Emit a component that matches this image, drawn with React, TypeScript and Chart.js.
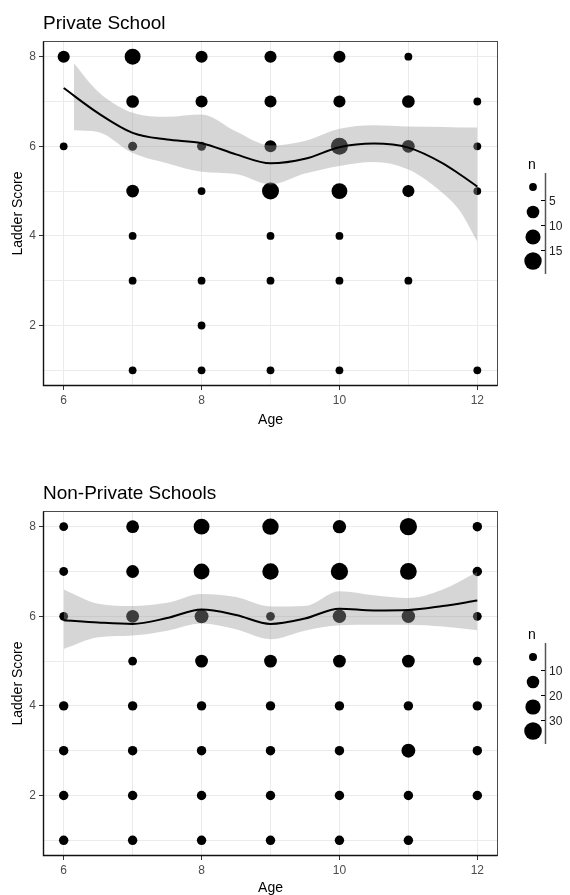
import React, { useEffect, useRef } from 'react';
import { Chart, registerables } from 'chart.js';

Chart.register(...registerables);

const FONT = "'Liberation Sans', Arial, Helvetica, sans-serif";
Chart.defaults.font.family = FONT;

// ---------- axes ----------
const AGE_TICKS = [6, 7, 8, 9, 10, 11, 12];
const AGE_LABELS = [6, 8, 10, 12];
const SCORE_TICKS = [1, 2, 3, 4, 5, 6, 7, 8];
const SCORE_LABELS = [2, 4, 6, 8];

// ---------- Private School ----------
const privateAges = [6, 6, 7, 7, 7, 7, 7, 7, 7, 8, 8, 8, 8, 8, 8, 8, 9, 9, 9, 9, 9, 9, 9, 10, 10, 10, 10, 10, 10, 10, 11, 11, 11, 11, 11, 12, 12, 12, 12];
const privateScores = [8, 6, 8, 7, 6, 5, 4, 3, 1, 8, 7, 6, 5, 3, 2, 1, 8, 7, 6, 5, 4, 3, 1, 8, 7, 6, 5, 4, 3, 1, 8, 7, 6, 5, 3, 7, 6, 5, 1];
const privateCounts = [6, 1, 14, 7, 2, 7, 1, 1, 1, 6, 6, 2, 1, 1, 1, 1, 6, 6, 6, 17, 1, 1, 1, 6, 6, 17, 14, 1, 1, 1, 1, 7, 7, 6, 1, 1, 1, 1, 1];

const privateFitAges = [6, 6.5, 7, 7.5, 8, 8.5, 9, 9.5, 10, 10.5, 11, 11.5, 11.75, 12];
const privateFit = [7.3, 6.74, 6.3, 6.15, 6.07, 5.82, 5.62, 5.72, 5.98, 6.06, 5.97, 5.62, 5.37, 5.1];
const privateBandAges = [6.15, 6.5, 7, 7.5, 8, 8.5, 9, 9.5, 10, 10.5, 11, 11.5, 11.75, 12];
const privateUpper = [7.85, 7.22, 6.75, 6.66, 6.71, 6.33, 6.02, 6.12, 6.39, 6.47, 6.44, 6.43, 6.42, 6.42];
const privateLower = [6.36, 6.32, 5.85, 5.62, 5.43, 5.38, 5.15, 5.39, 5.56, 5.65, 5.48, 4.95, 4.55, 3.87];

const privateLegendBreaks = ['5', '10', '15'];
const privateLegendCounts = [1, 7, 12, 18];

// ---------- Non-Private Schools ----------
const publicAges = [
  6, 6, 6, 6, 6, 6, 6,
  7, 7, 7, 7, 7, 7, 7, 7,
  8, 8, 8, 8, 8, 8, 8, 8,
  9, 9, 9, 9, 9, 9, 9, 9,
  10, 10, 10, 10, 10, 10, 10, 10,
  11, 11, 11, 11, 11, 11, 11, 11,
  12, 12, 12, 12, 12, 12, 12,
];
const publicScores = [
  8, 7, 6, 4, 3, 2, 1,
  8, 7, 6, 5, 4, 3, 2, 1,
  8, 7, 6, 5, 4, 3, 2, 1,
  8, 7, 6, 5, 4, 3, 2, 1,
  8, 7, 6, 5, 4, 3, 2, 1,
  8, 7, 6, 5, 4, 3, 2, 1,
  8, 7, 6, 5, 4, 3, 2,
];
const publicCounts = [
  2, 2, 2, 3, 3, 3, 3,
  12, 12, 12, 2, 3, 3, 3, 3,
  25, 25, 16, 12, 3, 3, 3, 3,
  28, 28, 2, 12, 3, 3, 3, 3,
  14, 33, 14, 12, 3, 3, 3, 3,
  33, 30, 14, 12, 3, 16, 3, 3,
  3, 3, 2, 2, 3, 3, 3,
];

const publicFitAges = [6, 6.5, 7, 7.5, 8, 8.5, 9, 9.5, 10, 10.5, 11, 11.5, 12];
const publicFit = [5.91, 5.86, 5.83, 5.96, 6.15, 6.03, 5.83, 5.95, 6.17, 6.13, 6.14, 6.23, 6.35];
const publicBandAges = [6, 6.5, 7, 7.5, 8, 8.5, 9, 9.5, 10, 10.5, 11, 11.5, 12];
const publicUpper = [6.6, 6.28, 6.23, 6.3, 6.5, 6.43, 6.22, 6.23, 6.56, 6.47, 6.41, 6.6, 6.99];
const publicLower = [5.27, 5.53, 5.57, 5.68, 5.84, 5.71, 5.49, 5.68, 5.8, 5.81, 5.81, 5.77, 5.69];

const publicLegendBreaks = ['10', '20', '30'];
const publicLegendCounts = [1, 11, 22, 35];

type PanelSpec = {
  title: string;
  ages: number[];
  scores: number[];
  counts: number[];
  fitAges: number[];
  fit: number[];
  bandAges: number[];
  upper: number[];
  lower: number[];
  legendBreaks: string[];
  legendCounts: number[];
  size: { nMin: number; nMax: number; rMin: number; rMax: number };
  layout: { top: number; bottom: number; xHeight: number; xTitlePad: number };
  height: number;
  canvasTop: number;
};

function radiusFor(n: number, s: PanelSpec['size']) {
  const t = (Math.sqrt(n) - Math.sqrt(s.nMin)) / (Math.sqrt(s.nMax) - Math.sqrt(s.nMin));
  return s.rMin + (s.rMax - s.rMin) * Math.max(0, Math.min(1, t));
}

const decorPlugin = {
  id: 'panelDecor',
  afterDraw(chart: any, _args: any, opts: any) {
    const { ctx, chartArea: a } = chart;
    const spec: PanelSpec = opts.spec;
    ctx.save();
    // panel border
    const L = Math.round(a.left) + 0.5;
    const T = Math.round(a.top) + 0.5;
    const R = Math.round(a.right) - 0.5;
    const B = Math.round(a.bottom) - 0.5;
    ctx.strokeStyle = '#4a4a4a';
    ctx.lineWidth = 1;
    ctx.strokeRect(L, T, R - L, B - T);
    ctx.strokeStyle = '#111';
    ctx.lineWidth = 1.4;
    ctx.beginPath();
    ctx.moveTo(L, T);
    ctx.lineTo(L, B);
    ctx.lineTo(R, B);
    ctx.stroke();

    // title
    ctx.fillStyle = '#000';
    ctx.font = `19px ${FONT}`;
    ctx.textAlign = 'left';
    ctx.textBaseline = 'alphabetic';
    ctx.fillText(spec.title, a.left, a.top - 12);

    // legend (binned size guide)
    const top = a.top;
    const kx = 533;
    const lx = 545.5;
    ctx.font = `14px ${FONT}`;
    ctx.fillStyle = '#000';
    ctx.fillText('n', 528, top + 128);
    const keyOffsets = [146, 171, 196, 220];
    const tickOffsets = [159, 184, 209];
    spec.legendCounts.forEach((n, i) => {
      ctx.beginPath();
      ctx.arc(kx, top + keyOffsets[i], radiusFor(n, spec.size), 0, Math.PI * 2);
      ctx.fillStyle = '#000';
      ctx.fill();
    });
    ctx.strokeStyle = '#555';
    ctx.lineWidth = 1.5;
    ctx.beginPath();
    ctx.moveTo(lx, top + 132);
    ctx.lineTo(lx, top + 233);
    ctx.stroke();
    ctx.strokeStyle = '#000';
    ctx.lineWidth = 1;
    ctx.font = `12px ${FONT}`;
    ctx.textBaseline = 'middle';
    spec.legendBreaks.forEach((lab, i) => {
      const y = Math.round(top + tickOffsets[i]) + 0.5;
      ctx.beginPath();
      ctx.moveTo(541, y);
      ctx.lineTo(545, y);
      ctx.stroke();
      ctx.fillStyle = '#222';
      ctx.fillText(lab, 549, y + 1);
    });
    ctx.restore();
  },
};

function buildConfig(spec: PanelSpec): any {
  const pts = spec.ages.map((x, i) => ({ x, y: spec.scores[i] }));
  const radii = spec.counts.map((n) => radiusFor(n, spec.size));
  const fitPts = spec.fitAges.map((x, i) => ({ x, y: spec.fit[i] }));
  const upPts = spec.bandAges.map((x, i) => ({ x, y: spec.upper[i] }));
  const loPts = spec.bandAges.map((x, i) => ({ x, y: spec.lower[i] }));
  const tickCol = (labels: number[]) => (ctx: any) =>
    ctx.tick && labels.includes(ctx.tick.value) ? '#333' : 'rgba(0,0,0,0)';
  return {
    type: 'scatter',
    data: {
      datasets: [
        {
          type: 'scatter',
          label: 'n',
          data: pts,
          pointRadius: radii,
          pointHoverRadius: radii,
          pointBackgroundColor: '#000',
          pointBorderWidth: 0,
          pointBorderColor: '#000',
          order: 3,
        },
        {
          type: 'line',
          label: 'upper',
          data: upPts,
          borderWidth: 0,
          borderColor: 'rgba(0,0,0,0)',
          backgroundColor: 'rgba(153,153,153,0.4)',
          pointRadius: 0,
          fill: '+1',
          cubicInterpolationMode: 'monotone',
          order: 2,
        },
        {
          type: 'line',
          label: 'lower',
          data: loPts,
          borderWidth: 0,
          borderColor: 'rgba(0,0,0,0)',
          pointRadius: 0,
          fill: false,
          cubicInterpolationMode: 'monotone',
          order: 2,
        },
        {
          type: 'line',
          label: 'fit',
          data: fitPts,
          borderWidth: 2,
          borderColor: '#000',
          pointRadius: 0,
          fill: false,
          cubicInterpolationMode: 'monotone',
          order: 1,
        },
      ],
    },
    options: {
      responsive: false,
      maintainAspectRatio: false,
      animation: false,
      events: [],
      layout: { padding: { left: 0, right: 72, top: spec.layout.top, bottom: spec.layout.bottom } },
      plugins: {
        legend: { display: false },
        tooltip: { enabled: false },
        title: { display: false },
        panelDecor: { spec },
      },
      scales: {
        x: {
          type: 'linear',
          min: 5.7,
          max: 12.3,
          afterBuildTicks: (s: any) => {
            s.ticks = AGE_TICKS.map((v) => ({ value: v }));
          },
          afterFit: (s: any) => {
            s.height = spec.layout.xHeight;
          },
          ticks: {
            autoSkip: false,
            maxRotation: 0,
            padding: 3,
            color: '#4d4d4d',
            font: { size: 12, family: FONT },
            callback: (v: number) => (AGE_LABELS.includes(v) ? String(v) : ''),
          },
          grid: { color: '#ebebeb', lineWidth: 1, tickLength: 4, tickColor: tickCol(AGE_LABELS) },
          border: { display: false },
          title: {
            display: true,
            text: 'Age',
            color: '#000',
            font: { size: 14, family: FONT },
            padding: { top: 0, bottom: spec.layout.xTitlePad },
          },
        },
        y: {
          type: 'linear',
          min: 0.65,
          max: 8.35,
          afterBuildTicks: (s: any) => {
            s.ticks = SCORE_TICKS.map((v) => ({ value: v }));
          },
          afterFit: (s: any) => {
            s.width = 43;
          },
          ticks: {
            autoSkip: false,
            padding: 3,
            color: '#4d4d4d',
            font: { size: 12, family: FONT },
            callback: (v: number) => (SCORE_LABELS.includes(v) ? String(v) : ''),
          },
          grid: { color: '#ebebeb', lineWidth: 1, tickLength: 4, tickColor: tickCol(SCORE_LABELS) },
          border: { display: false },
          title: {
            display: true,
            text: 'Ladder Score',
            color: '#000',
            font: { size: 14, family: FONT },
            padding: { top: 9.6, bottom: 0 },
          },
        },
      },
    },
    plugins: [decorPlugin],
  };
}

const SIZE_PRIVATE = { nMin: 1, nMax: 18, rMin: 3.9, rMax: 8.7 };
const SIZE_PUBLIC = { nMin: 1, nMax: 35, rMin: 4.0, rMax: 8.8 };

const PANELS: PanelSpec[] = [
  {
    title: 'Private School',
    ages: privateAges,
    scores: privateScores,
    counts: privateCounts,
    fitAges: privateFitAges,
    fit: privateFit,
    bandAges: privateBandAges,
    upper: privateUpper,
    lower: privateLower,
    legendBreaks: privateLegendBreaks,
    legendCounts: privateLegendCounts,
    size: SIZE_PRIVATE,
    layout: { top: 41, bottom: 15, xHeight: 46, xTitlePad: 3.6 },
    height: 447,
    canvasTop: 0,
  },
  {
    title: 'Non-Private Schools',
    ages: publicAges,
    scores: publicScores,
    counts: publicCounts,
    fitAges: publicFitAges,
    fit: publicFit,
    bandAges: publicBandAges,
    upper: publicUpper,
    lower: publicLower,
    legendBreaks: publicLegendBreaks,
    legendCounts: publicLegendCounts,
    size: SIZE_PUBLIC,
    layout: { top: 64, bottom: 0, xHeight: 39, xTitlePad: -1.4 },
    height: 448,
    canvasTop: 447,
  },
];

function Panel({ spec }: { spec: PanelSpec }) {
  const ref = useRef<HTMLCanvasElement>(null);
  useEffect(() => {
    if (!ref.current) return;
    const chart = new Chart(ref.current, buildConfig(spec));
    return () => chart.destroy();
  }, [spec]);
  return (
    <canvas
      ref={ref}
      width={570}
      height={spec.height}
      style={{ position: 'absolute', left: 0, top: spec.canvasTop, width: 570, height: spec.height, display: 'block' }}
    />
  );
}

export default function App() {
  return (
    <div style={{ position: 'absolute', left: 0, top: 0, width: 570, height: 895, overflow: 'hidden', background: '#fff' }}>
      {PANELS.map((p) => (
        <Panel key={p.title} spec={p} />
      ))}
    </div>
  );
}
